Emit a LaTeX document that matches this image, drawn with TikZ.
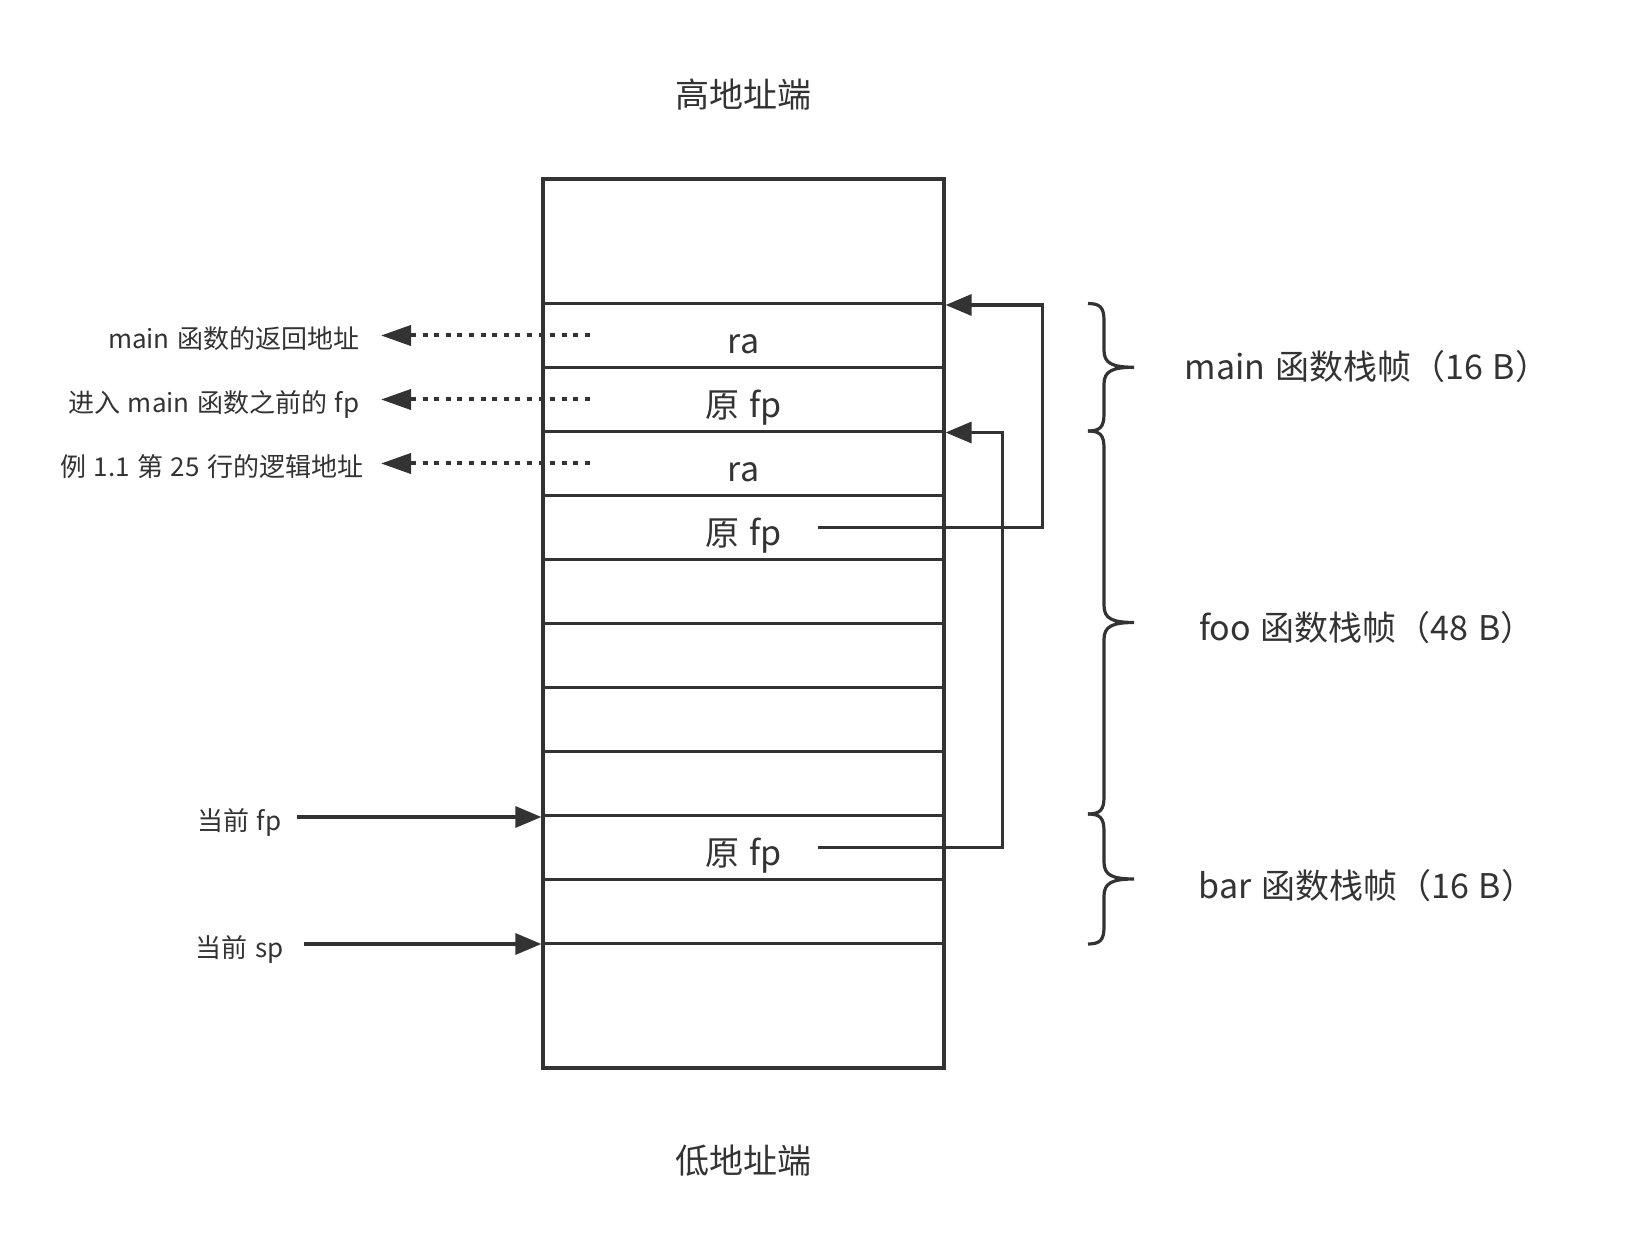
\documentclass[tikz,border=0pt]{standalone}
\usepackage{fontspec}
\setmainfont{Noto Sans CJK SC}[WordSpace=1.3]
\usetikzlibrary{arrows.meta, positioning}
\definecolor{ink}{HTML}{333333}

% curly brace on the right of the stack, from y=#1 to y=#2
\newcommand{\framebrace}[2]{%
  \draw (1088,#1) .. controls (1100,#1) and (1104,#1+4) .. (1104,#1+17)
    -- (1104,{(#1+#2)/2-17}) .. controls (1104,{(#1+#2)/2-4}) and (1112,{(#1+#2)/2}) .. (1134,{(#1+#2)/2})
    .. controls (1112,{(#1+#2)/2}) and (1104,{(#1+#2)/2+4}) .. (1104,{(#1+#2)/2+17})
    -- (1104,#2-17) .. controls (1104,#2-4) and (1100,#2) .. (1088,#2);}

\begin{document}
\begin{tikzpicture}[x=0.5pt, y=-0.5pt, line width=1.6pt, ink,
    cell/.style={font=\fontsize{17pt}{20pt}\selectfont, inner sep=0pt, text height=18pt, text depth=0pt},
    side/.style={font=\fontsize{17pt}{20pt}\selectfont, inner sep=0pt, anchor=base},
    note/.style={font=\fontsize{13pt}{16pt}\selectfont, anchor=east, inner ysep=0pt, inner xsep=10pt, text height=13pt, text depth=0pt},
    ptr/.style={line width=2pt, dash pattern=on 2.5pt off 3.3pt, -{Triangle[length=15pt, width=10pt]}},
    link/.style={-{Triangle[length=13pt, width=10.5pt]}}]
  \useasboundingbox (0,0) rectangle (1635,1246);

  % the stack
  \node[draw, minimum width=200.5pt, minimum height=444.5pt, inner sep=0pt] (stack) at (743.5,623.5) {};
  \foreach \i [evaluate=\i as \y using 303.5+64*\i] in {0,...,10}
    \draw (543,\y) -- (944,\y);

  \node[side] (high) at (743.5,108) {高地址端};
  \node[side] (low) at (743.5,1173) {低地址端};

  \node[cell] (ra1) at (743.5,335.5) {ra};
  \node[cell] (ofp1) at (743.5,399.5) {原 fp};
  \node[cell] (ra2) at (743.5,463.5) {ra};
  \node[cell] (ofp2) at (743.5,527.5) {原 fp};
  \node[cell] (ofp3) at (743.5,847.5) {原 fp};

  % left side
  \node[note] (retlab) at (381,335.5) {main 函数的返回地址};
  \node[note] (fplab) at (381,399.5) {进入 main 函数之前的 fp};
  \node[note, inner xsep=8pt] (linelab) at (381,463.5) {例 1.1 第 25 行的逻辑地址};
  \coordinate (dashend) at (590,0);
  \draw[ptr] (ra1 -| dashend) -- (retlab);
  \draw[ptr] (ofp1 -| dashend) -- (fplab);
  \draw[ptr] (ra2 -| dashend) -- (linelab);

  \node[note, inner xsep=7pt] (curfp) at (297,817) {当前 fp};
  \node[note, inner xsep=9.5pt] (cursp) at (304,944) {当前 sp};
  \draw[link] (curfp) -- (curfp -| stack.west);
  \draw[link] (cursp) -- (cursp -| stack.west);

  % saved fp chain
  \coordinate (mainin) at (stack.east |- 0,305);
  \coordinate (fooin) at (stack.east |- 0,432.5);
  \draw[link] ([xshift=17.5pt]ofp2.east) -- ++(224,0) |- (mainin);
  \draw[link] ([xshift=17.5pt]ofp3.east) -- ++(184,0) |- (fooin);

  % frames
  \framebrace{303.5}{431}
  \framebrace{431}{814}
  \framebrace{814}{944}
  \node[side] (mainlab) at (1367,380) {main 函数栈帧（16 B）};
  \node[side] (foolab) at (1367,640) {foo 函数栈帧（48 B）};
  \node[side] (barlab) at (1367,898) {bar 函数栈帧（16 B）};
\end{tikzpicture}
\end{document}
